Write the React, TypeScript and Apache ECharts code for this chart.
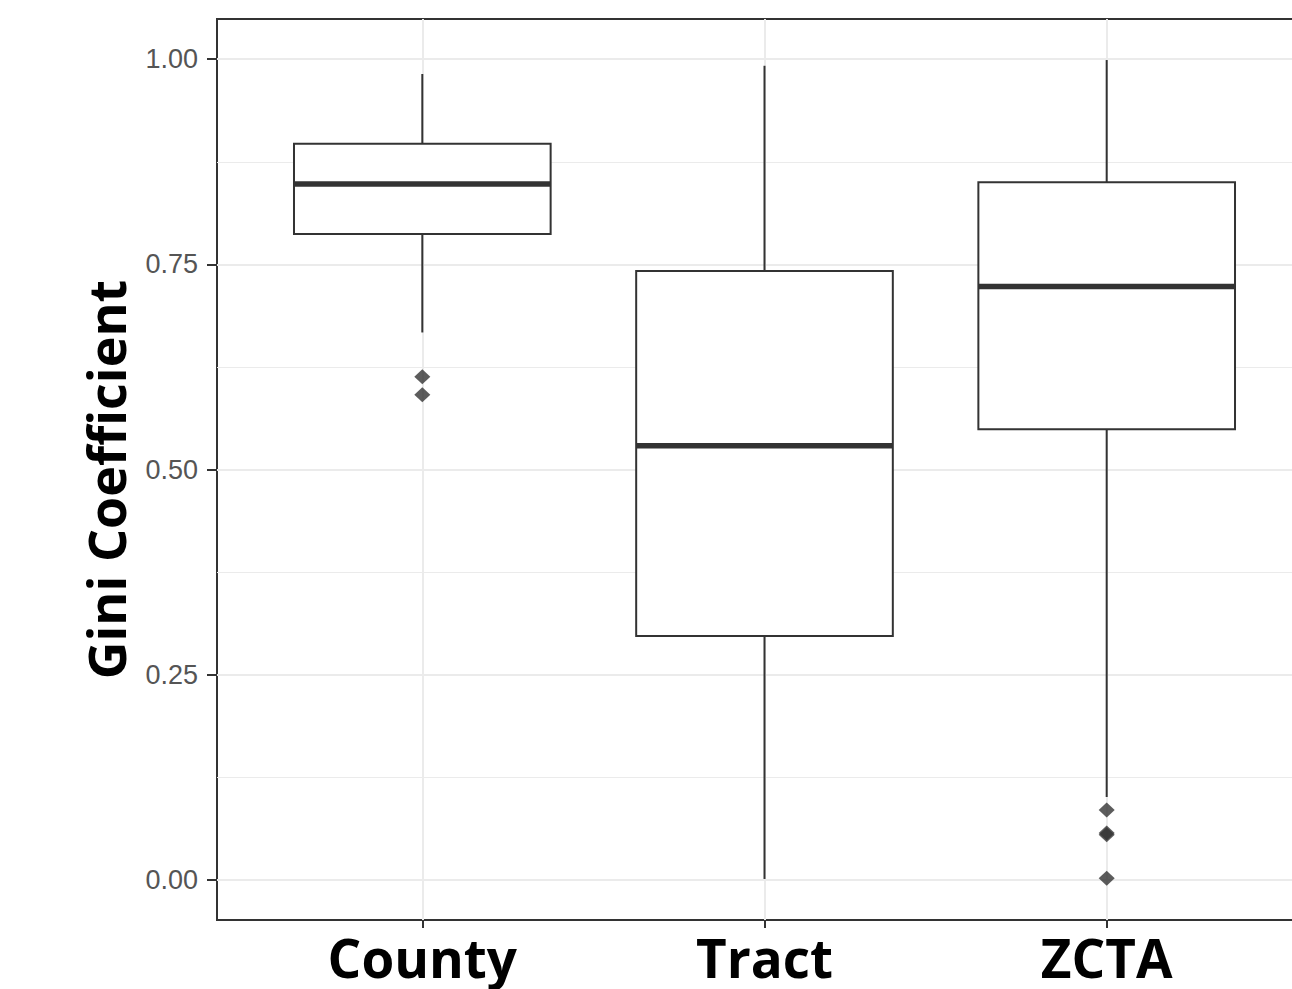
import React, { useEffect, useRef } from "react";
import * as echarts from "echarts";

const categories = ["County", "Tract", "ZCTA"];
const lowerWhisker = [0.667, 0.001, 0.101];
const q1 = [0.787, 0.297, 0.549];
const median = [0.848, 0.529, 0.723];
const q3 = [0.897, 0.742, 0.85];
const upperWhisker = [0.982, 0.992, 0.999];
// [category index (1-based), value]
const outliers: [number, number][] = [
  [1, 0.613],
  [1, 0.591],
  [3, 0.085],
  [3, 0.057],
  [3, 0.055],
  [3, 0.002],
];
const yMajorTicks = [0, 0.25, 0.5, 0.75, 1];
const yMinorTicks = [0.125, 0.375, 0.625, 0.875];
const yLabels = ["0.00", "0.25", "0.50", "0.75", "1.00"];

const BOX_HALF = 0.375;
const INK = "#333333";
const GRID = "#ebebeb";
const CHART_W = 1322;

export default function App() {
  const ref = useRef<HTMLDivElement>(null);
  useEffect(() => {
    if (!ref.current) return;
    const chart = echarts.init(ref.current, null, { renderer: "svg" });
    const boxData = categories.map((_, i) => [
      i + 1,
      lowerWhisker[i],
      q1[i],
      median[i],
      q3[i],
      upperWhisker[i],
    ]);
    chart.setOption({
      animation: false,
      backgroundColor: "#ffffff",
      grid: {
        left: 217,
        top: 19,
        bottom: 69,
        right: CHART_W - 1312,
        show: true,
        borderColor: INK,
        borderWidth: 2,
        backgroundColor: "transparent",
      },
      xAxis: {
        type: "value",
        min: 0.4,
        max: 3.6,
        axisLine: { show: false, onZero: false },
        axisTick: {
          show: true,
          customValues: [1, 2, 3],
          length: 8,
          lineStyle: { color: INK, width: 2 },
        },
        axisLabel: {
          customValues: [1, 2, 3],
          formatter: (v: number) => categories[Math.round(v) - 1] ?? "",
          fontFamily: "Open Sans",
          fontWeight: "bold",
          fontSize: 53,
          color: "#000000",
          margin: 11,
        },
        splitLine: { show: true, lineStyle: { color: GRID, width: 2 } },
      },
      yAxis: [
        {
          type: "value",
          min: -0.049,
          max: 1.049,
          name: "Gini Coefficient",
          nameLocation: "middle",
          nameGap: 86,
          nameTextStyle: {
            fontFamily: "Open Sans",
            fontWeight: "bold",
            fontSize: 52,
            color: "#000000",
            padding: [0, 20, 0, 0],
          },
          axisLine: { show: false, onZero: false },
          axisTick: {
            show: true,
            customValues: yMajorTicks,
            length: 10,
            lineStyle: { color: INK, width: 2 },
          },
          axisLabel: {
            customValues: yMajorTicks,
            formatter: (v: number) => yLabels[Math.round(v * 4)] ?? "",
            fontFamily: "Liberation Sans",
            fontSize: 27,
            color: "#555555",
            margin: 19,
          },
          splitLine: { show: true, lineStyle: { color: GRID, width: 2 } },
        },
        {
          type: "value",
          min: -0.049,
          max: 1.049,
          position: "left",
          axisLine: { show: false, onZero: false },
          axisTick: { show: false, customValues: yMinorTicks },
          axisLabel: { show: false, customValues: yMinorTicks },
          splitLine: { show: true, lineStyle: { color: GRID, width: 1.2 } },
        },
      ],
      series: [
        {
          type: "custom",
          xAxisIndex: 0,
          yAxisIndex: 0,
          data: boxData,
          z: 3,
          renderItem: (params: any, api: any) => {
            const x = api.value(0);
            const lo = api.value(1);
            const a = api.value(2);
            const m = api.value(3);
            const b = api.value(4);
            const hi = api.value(5);
            const pLo = api.coord([x, lo]);
            const pA = api.coord([x, a]);
            const pB = api.coord([x, b]);
            const pHi = api.coord([x, hi]);
            const left = api.coord([x - BOX_HALF, b]);
            const right = api.coord([x + BOX_HALF, a]);
            const mL = api.coord([x - BOX_HALF, m]);
            const mR = api.coord([x + BOX_HALF, m]);
            const lineStyle = { stroke: INK, lineWidth: 2 };
            return {
              type: "group",
              children: [
                {
                  type: "line",
                  shape: { x1: pB[0], y1: pB[1], x2: pHi[0], y2: pHi[1] },
                  style: lineStyle,
                },
                {
                  type: "line",
                  shape: { x1: pLo[0], y1: pLo[1], x2: pA[0], y2: pA[1] },
                  style: lineStyle,
                },
                {
                  type: "rect",
                  shape: {
                    x: left[0],
                    y: left[1],
                    width: right[0] - left[0],
                    height: right[1] - left[1],
                  },
                  style: { fill: "#ffffff", stroke: INK, lineWidth: 2 },
                },
                {
                  type: "line",
                  shape: { x1: mL[0], y1: mL[1], x2: mR[0], y2: mR[1] },
                  style: { stroke: INK, lineWidth: 5.5 },
                },
              ],
            };
          },
        },
        {
          type: "scatter",
          xAxisIndex: 0,
          yAxisIndex: 0,
          data: outliers,
          symbol: "diamond",
          symbolSize: [16, 15],
          itemStyle: { color: INK },
          z: 4,
        },
      ],
    });
    return () => chart.dispose();
  }, []);
  return (
    <div
      style={{
        position: "fixed",
        left: 0,
        top: 0,
        width: 1292,
        height: 989,
        overflow: "hidden",
        background: "#ffffff",
      }}
    >
      <div ref={ref} style={{ width: CHART_W, height: 989 }} />
    </div>
  );
}
